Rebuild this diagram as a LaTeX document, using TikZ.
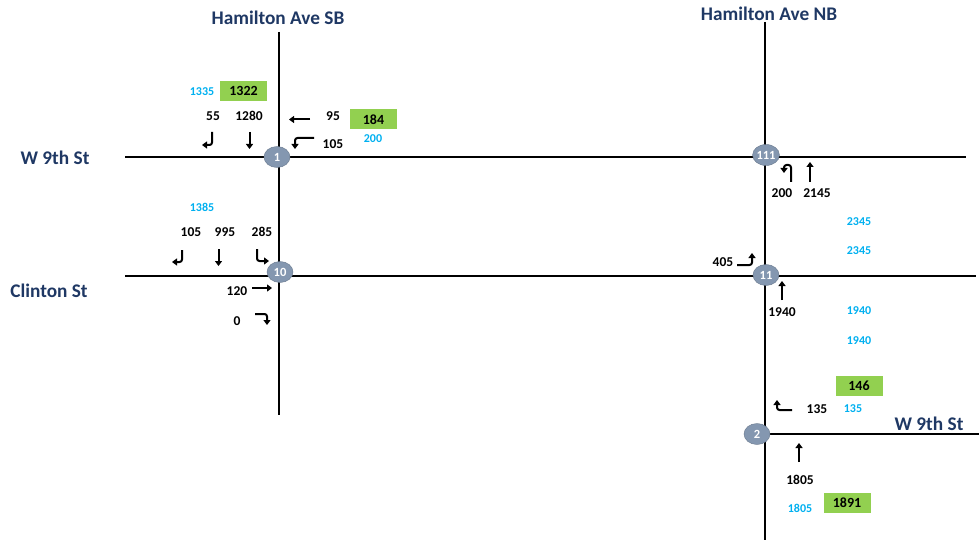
\documentclass[tikz,border=0pt]{standalone}
\usepackage{fontspec}
\setmainfont{Carlito}
\usetikzlibrary{arrows.meta,shapes.geometric}
\definecolor{navy}{HTML}{1F3864}
\definecolor{cyanblue}{HTML}{00B0F0}
\definecolor{boxgreen}{HTML}{92D050}
\definecolor{juncfill}{HTML}{8497B0}
\tikzset{
  road/.style={line width=1.1pt, black},
  junc/.style={ellipse, fill=juncfill, draw=juncfill!80!black, line width=0.4pt, minimum width=26pt, minimum height=21pt, inner sep=0pt, text=white, font=\fontsize{12.5}{12.5}\selectfont\bfseries},
  title/.style={text=navy, font=\fontsize{19.3}{19.3}\selectfont\bfseries},
  vol/.style={text=black, font=\fontsize{13.5}{13.5}\selectfont\bfseries},
  bvol/.style={text=cyanblue, font=\fontsize{12}{12}\selectfont\bfseries},
  gbox/.style={fill=boxgreen, minimum width=47pt, minimum height=20pt, inner sep=0pt, text=black, font=\fontsize{14}{14}\selectfont\bfseries},
  mv/.style={line width=2pt, rounded corners=2.5pt, -{Triangle[length=5pt,width=7pt]}}
}
\begin{document}
\begin{tikzpicture}[x=1pt,y=-1pt]
\useasboundingbox (0,0) rectangle (979,548);
% roads
\coordinate (sbT) at (279,32);  \coordinate (sbB) at (279,415);
\coordinate (nbT) at (765,22);  \coordinate (nbB) at (765,540);
\coordinate (w9L) at (125,157); \coordinate (w9R) at (966,157);
\coordinate (clL) at (125,276); \coordinate (clR) at (976,276);
\coordinate (w2L) at (757,434); \coordinate (w2R) at (979,434);
\draw[road] (sbT) -- (sbB);
\draw[road] (nbT) -- (nbB);
\draw[road] (w9L) -- (w9R);
\draw[road] (clL) -- (clR);
\draw[road] (w2L) -- (w2R);
% junctions
\node[junc] (n1) at (277,157) {1};
\node[junc] (n111) at (766,155) {111};
\node[junc] (n10) at (280,272) {10};
\node[junc] (n11) at (766,275) {11};
\node[junc] (n2) at (757,434) {2};
% street names
\node[title] (tsb) at (278,18) {Hamilton Ave SB};
\node[title] (tnb) at (769,14) {Hamilton Ave NB};
\node[title] (tw9) at (55,158) {W 9th St};
\node[title] (tcl) at (49,291) {Clinton St};
\node[title] (tw2) at (929,424) {W 9th St};
% intersection 1
\node[bvol] (a1) at (202,92) {1335};
\node[gbox] (a2) at (243.5,91) {1322};
\node[vol] (a3) at (213,116) {55};
\node[vol] (a4) at (249,116) {1280};
\node[vol] (a5) at (333,116) {95};
\node[gbox] (a6) at (373.5,119.5) {184};
\node[vol] (a7) at (333,144) {105};
\node[bvol] (a8) at (373,139) {200};
\draw[mv] (212,132) -- (212,145) -- (202,145);
\draw[mv] (249.5,132) -- (249.5,149);
\draw[mv] (310,119.5) -- (289,119.5);
\draw[mv] (314,138) -- (295,138) -- (295,149);
% intersection 10
\node[bvol] (b1) at (202,207) {1385};
\node[vol] (b2) at (191,232) {105};
\node[vol] (b3) at (225,232) {995};
\node[vol] (b4) at (262,232) {285};
\draw[mv] (182,250) -- (182,262) -- (172,262);
\draw[mv] (218.5,249) -- (218.5,266);
\draw[mv] (257,249) -- (257,261) -- (269,261);
\node[vol] (b5) at (237,291) {120};
\draw[mv] (252,288) -- (272,288);
\node[vol] (b6) at (237,321) {0};
\draw[mv] (255,314) -- (267,314) -- (267,325);
% intersection 111
\draw[mv] (791,182) -- (791,165) -- (784,165) -- (784,173);
\draw[mv] (810,182) -- (810,162);
\node[vol] (c1) at (782,193) {200};
\node[vol] (c2) at (817,193) {2145};
\node[bvol] (c3) at (859,222) {2345};
\node[bvol] (c4) at (859,251) {2345};
% intersection 11
\node[vol] (d1) at (723,262) {405};
\draw[mv] (737,265) -- (752,265) -- (752,253);
\draw[mv] (782,300) -- (782,281);
\node[vol] (d2) at (782,312) {1940};
\node[bvol] (d3) at (859,311) {1940};
\node[bvol] (d4) at (859,341) {1940};
% intersection 2
\node[gbox] (e1) at (859,385.5) {146};
\draw[mv] (792,410) -- (777,410) -- (777,400);
\node[vol] (e2) at (817,409) {135};
\node[bvol] (e3) at (853,409) {135};
\draw[mv] (799,462) -- (799,443);
\node[vol] (e4) at (800,480) {1805};
\node[bvol] (e5) at (800,508) {1805};
\node[gbox] (e6) at (847,503) {1891};
\end{tikzpicture}
\end{document}
